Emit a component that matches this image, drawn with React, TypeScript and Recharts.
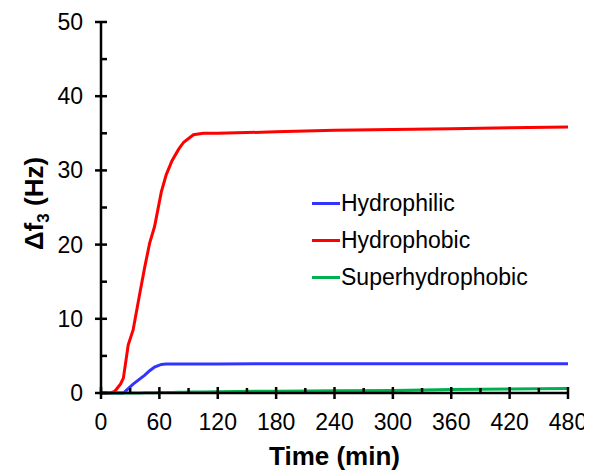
import { LineChart, Line, XAxis, YAxis, Legend, Label } from 'recharts';

const time = [0, 10, 14, 20, 23, 28, 33, 40, 45, 50, 55, 62, 67, 73, 80, 85, 95, 105, 120, 180, 240, 300, 360, 420, 480];
const hydrophilic = [0, 0, 0, 0, 0, 0.6, 1.2, 1.9, 2.4, 3.0, 3.5, 3.85, 3.9, 3.9, 3.9, 3.9, 3.9, 3.9, 3.9, 3.95, 3.95, 3.95, 3.95, 3.95, 3.95];
const hydrophobic = [0, 0, 0.2, 1.2, 2.0, 6.5, 8.5, 13.5, 17.0, 20.2, 22.4, 27.1, 29.4, 31.3, 32.9, 33.8, 34.8, 35.0, 35.0, 35.2, 35.4, 35.5, 35.6, 35.75, 35.85];
const superhydrophobic = [0, 0, 0, 0, 0, 0, 0, 0, 0.02, 0.04, 0.05, 0.06, 0.07, 0.08, 0.09, 0.1, 0.12, 0.14, 0.17, 0.25, 0.3, 0.35, 0.48, 0.55, 0.6];

const xTicks = [0, 30, 60, 90, 120, 150, 180, 210, 240, 270, 300, 330, 360, 390, 420, 450, 480];
const yTicks = [0, 5, 10, 15, 20, 25, 30, 35, 40, 45, 50];

const rows = time.map((t, i) => ({
  time: t,
  Hydrophilic: hydrophilic[i],
  Hydrophobic: hydrophobic[i],
  Superhydrophobic: superhydrophobic[i],
}));

const font = 'Liberation Sans, Arial, sans-serif';

// major ticks cross the axis, minor ones sit inside the plot
const XTick = (props: any) => {
  const { x, y, payload } = props;
  const major = payload.value % 60 === 0;
  return (
    <g>
      <line x1={x} x2={x} y1={major ? y - 6 : y - 5} y2={major ? y + 6 : y} stroke="#000" strokeWidth={2.5} />
      {major && (
        <text x={x} y={y + 37} textAnchor="middle" fontSize={23} fontFamily={font} fill="#000">
          {payload.value}
        </text>
      )}
    </g>
  );
};

const YTick = (props: any) => {
  const { x, y, payload } = props;
  const major = payload.value % 10 === 0;
  return (
    <g>
      <line x1={major ? x - 6 : x} x2={x + 6} y1={y} y2={y} stroke="#000" strokeWidth={2.5} />
      {major && (
        <text x={x - 18} y={y + 8} textAnchor="end" fontSize={23} fontFamily={font} fill="#000">
          {payload.value}
        </text>
      )}
    </g>
  );
};

const YLabel = (props: any) => {
  const { viewBox } = props;
  const cx = 35;
  const cy = viewBox.y + viewBox.height / 2 - 4;
  return (
    <text x={cx} y={cy} transform={`rotate(-90, ${cx}, ${cy})`} textAnchor="middle" fontSize={26} fontWeight="bold" fontFamily={font} fill="#000">
      Δf<tspan fontSize={17} dy={6}>3</tspan>
      <tspan dy={-6}> (Hz)</tspan>
    </text>
  );
};

const renderLegend = (props: any) => (
  <div style={{ fontFamily: font, fontSize: 23 }}>
    {props.payload.map((p: any) => (
      <div key={p.value} style={{ display: 'flex', alignItems: 'center', height: 37 }}>
        <span style={{ display: 'inline-block', width: 28, height: 3, background: p.color, marginRight: 1 }} />
        <span>{p.value}</span>
      </div>
    ))}
  </div>
);

export default function App() {
  return (
    <LineChart width={584} height={465} data={rows} margin={{ top: 14, right: 24, left: 0, bottom: 8 }}>
      <XAxis
        dataKey="time"
        type="number"
        domain={[0, 480]}
        ticks={xTicks}
        interval={0}
        height={72}
        tickSize={0}
        tickMargin={0}
        tickLine={false}
        tick={<XTick />}
        axisLine={{ stroke: '#000', strokeWidth: 2.5 }}
      >
        <Label value="Time (min)" position="insideBottom" offset={0} fontSize={26} fontWeight="bold" fontFamily={font} fill="#000" />
      </XAxis>
      <YAxis
        type="number"
        domain={[0, 50]}
        ticks={yTicks}
        interval={0}
        width={93}
        tickSize={0}
        tickMargin={0}
        tickLine={false}
        tick={<YTick />}
        axisLine={{ stroke: '#000', strokeWidth: 2.5 }}
        label={{ content: <YLabel /> }}
      />
      <Legend
        layout="vertical"
        verticalAlign="middle"
        align="center"
        wrapperStyle={{ top: 177, left: 304, width: 'auto' }}
        content={renderLegend}
      />
      <Line dataKey="Hydrophilic" stroke="#3333ff" strokeWidth={3} dot={false} isAnimationActive={false} />
      <Line dataKey="Hydrophobic" stroke="#ff0000" strokeWidth={3} dot={false} isAnimationActive={false} />
      <Line dataKey="Superhydrophobic" stroke="#00b050" strokeWidth={3} dot={false} isAnimationActive={false} />
    </LineChart>
  );
}
